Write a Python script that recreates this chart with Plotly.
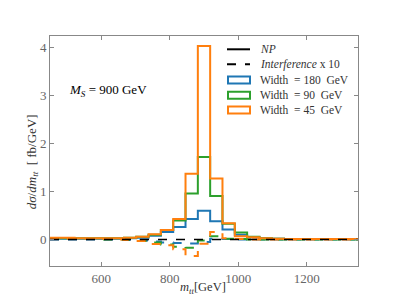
import plotly.graph_objects as go

# bin edges (GeV)
bin_edges = [450, 486, 522, 558, 594, 630, 666, 702, 738, 774, 810, 846, 882,
             918, 954, 990, 1026, 1062, 1098, 1134, 1170, 1206, 1242, 1278, 1314, 1350]

# NP signal (fb/GeV) for three widths
np_w180 = [0.02, 0.02, 0.02, 0.02, 0.02, 0.02, 0.03, 0.04, 0.08, 0.16, 0.26, 0.43, 0.60,
           0.38, 0.21, 0.10, 0.05, 0.03, 0.02, 0.01, 0.01, 0.01, 0.01, 0.01, 0.01]
np_w90 = [0.03, 0.03, 0.03, 0.03, 0.03, 0.03, 0.04, 0.06, 0.10, 0.20, 0.40, 0.96, 1.72,
          0.91, 0.33, 0.15, 0.06, 0.03, 0.02, 0.01, 0.01, 0.01, 0.01, 0.01, 0.01]
np_w45 = [0.04, 0.04, 0.03, 0.03, 0.03, 0.03, 0.04, 0.06, 0.11, 0.20, 0.43, 1.37, 4.03,
          1.27, 0.34, 0.07, 0.05, 0.03, 0.02, 0.01, 0.01, 0.01, 0.01, 0.01, 0.01]

# Interference x 10
int_w180 = [0.00, 0.00, 0.00, 0.00, 0.00, 0.00, -0.01, -0.02, -0.04, -0.06, -0.07, -0.08, -0.05,
            0.02, 0.01, 0.00, 0.00, 0.00, 0.00, 0.00, 0.00, 0.00, 0.00, 0.00, 0.00]
int_w90 = [0.01, 0.01, 0.01, 0.01, 0.00, 0.00, -0.01, -0.03, -0.06, -0.10, -0.15, -0.17, -0.02,
           0.07, 0.02, 0.01, 0.00, 0.00, 0.00, 0.00, 0.00, 0.00, 0.00, 0.00, 0.00]
int_w45 = [0.02, 0.02, 0.02, 0.01, 0.01, 0.00, -0.01, -0.03, -0.09, -0.12, -0.20, -0.34, -0.085,
           0.16, 0.03, 0.01, 0.00, 0.00, 0.00, 0.00, 0.00, 0.00, 0.00, 0.00, 0.00]

zero_line = [0.0] * 25

widths = ["180", "90", "45"]
colors = ["#1f77b4", "#2ca02c", "#ff7f0e"]
np_series = [np_w180, np_w90, np_w45]
int_series = [int_w180, int_w90, int_w45]

FONT = "Liberation Serif"

def step(vals):
    x = [bin_edges[0]] + bin_edges + [bin_edges[-1]]
    y = [0] + list(vals) + [vals[-1], 0]
    return x, y

fig = go.Figure()

for col, npv, intv in zip(colors, np_series, int_series):
    x, y = step(npv)
    fig.add_trace(go.Scatter(x=x, y=y, mode="lines", line_shape="hv",
                             line=dict(color=col, width=2), showlegend=False))
    x, y = step(intv)
    fig.add_trace(go.Scatter(x=x, y=y, mode="lines", line_shape="hv",
                             line=dict(color=col, width=2, dash="dash"), showlegend=False))

x, y = step(zero_line)
fig.add_trace(go.Scatter(x=x, y=y, mode="lines", line_shape="hv",
                         line=dict(color="black", width=1.5, dash="dash"), showlegend=False))

axis_common = dict(showline=True, linecolor="#888888", linewidth=1, mirror="ticks",
                   ticks="inside", ticklen=4, tickcolor="#888888", showgrid=False,
                   zeroline=False, tickfont=dict(family=FONT, size=13, color="#666666"))

fig.update_xaxes(range=[450, 1350], tickvals=[600, 800, 1000, 1200], **axis_common)
fig.update_yaxes(range=[-0.55, 4.24], tickvals=[0, 1, 2, 3, 4], **axis_common)

# plot-area pixel geometry helpers for legend placement (paper coords)
PL, PR, PT, PB = 50.0, 358.0, 35.7, 265.7
def px(xp):
    return (xp - PL) / (PR - PL)
def py(yp):
    return (PB - yp) / (PB - PT)

legend_labels = ["<i>NP</i>", "<i>Interference</i> x 10"] + \
    ["Width  = %s  GeV" % w for w in widths]
row_y = [49, 64, 79.7, 95, 109.7]

shapes = []
annotations = []
# legend symbols
shapes.append(dict(type="line", xref="paper", yref="paper", x0=px(227), x1=px(250),
                   y0=py(row_y[0]), y1=py(row_y[0]), line=dict(color="black", width=2)))
shapes.append(dict(type="line", xref="paper", yref="paper", x0=px(227), x1=px(250),
                   y0=py(row_y[1]), y1=py(row_y[1]),
                   line=dict(color="black", width=2, dash="dash")))
for i, col in enumerate(colors):
    ry = row_y[2 + i]
    shapes.append(dict(type="rect", xref="paper", yref="paper", x0=px(228), x1=px(250),
                       y0=py(ry - 3.5), y1=py(ry + 3.5),
                       line=dict(color=col, width=2), fillcolor="rgba(0,0,0,0)"))
for lab, ry in zip(legend_labels, row_y):
    annotations.append(dict(text=lab, x=px(258), y=py(ry), xref="paper", yref="paper",
                            xanchor="left", yanchor="middle", showarrow=False,
                            font=dict(family=FONT, size=11.5, color="#333333")))

annotations += [
    dict(text="<i>M<sub>S</sub></i> = 900 GeV", x=px(67), y=py(90), xref="paper", yref="paper",
         showarrow=False, xanchor="left", yanchor="middle",
         font=dict(family=FONT, size=13, color="black")),
    dict(text="<i>m<sub>tt</sub></i>[GeV]", x=px(203), y=py(288), xref="paper", yref="paper",
         xanchor="center", yanchor="middle", showarrow=False,
         font=dict(family=FONT, size=12.5, color="#333333")),
    dict(text="<i>dσ</i>/<i>dm<sub>tt</sub></i>  [ fb/GeV]", x=px(32), y=py(162), xref="paper",
         yref="paper", xanchor="center", yanchor="middle", textangle=-90, showarrow=False,
         font=dict(family=FONT, size=13, color="#333333")),
]

# browser body has an 8px margin: compensate in size and margins
fig.update_layout(
    width=391, height=291,
    margin=dict(l=42, r=41, t=28, b=33),
    plot_bgcolor="white", paper_bgcolor="white",
    font=dict(family=FONT, size=11, color="#333333"),
    showlegend=False,
    shapes=shapes,
    annotations=annotations,
)

fig.write_html("out.html")
